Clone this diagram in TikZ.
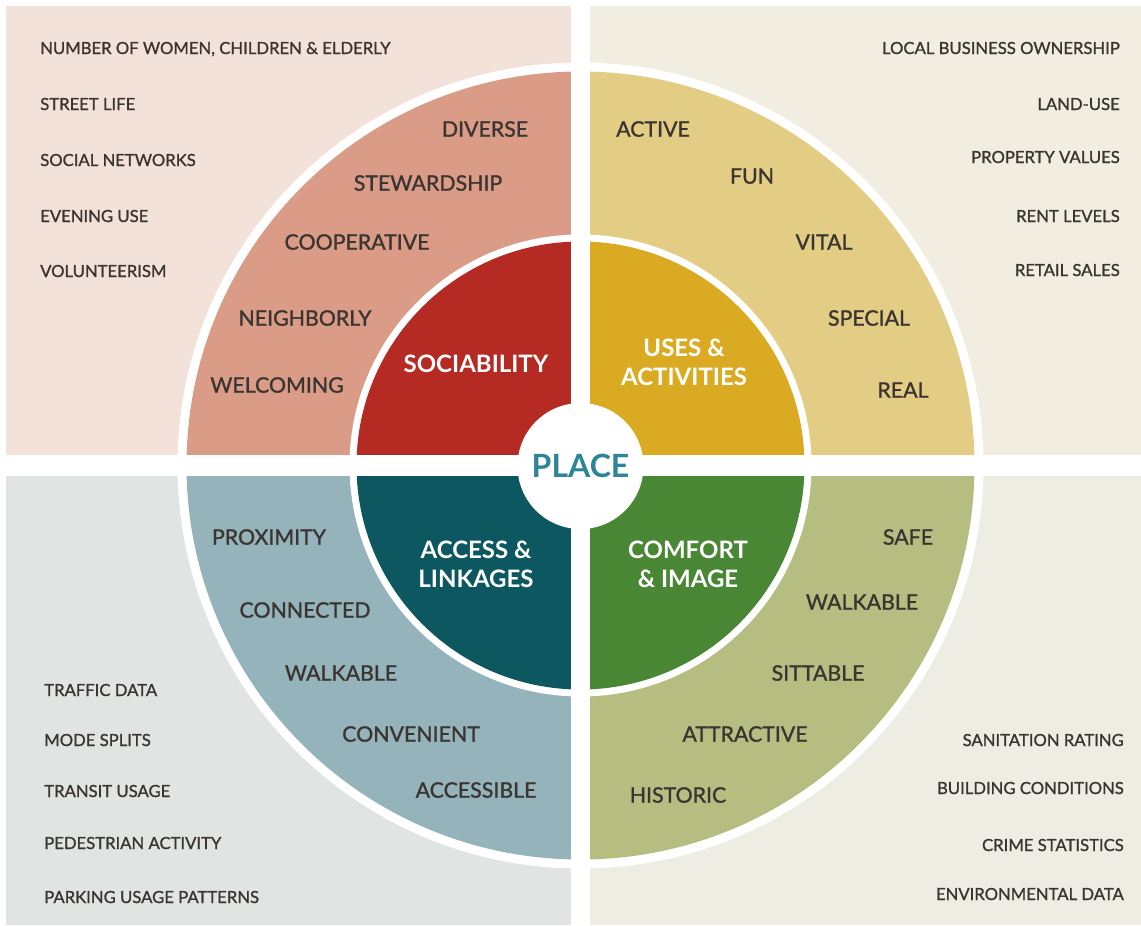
\documentclass[tikz,border=0pt]{standalone}
\usepackage{fontspec}
\setmainfont{Lato}
\newfontfamily\labelfont{Lato}[FakeBold=1.2]
\definecolor{inkdark}{HTML}{3B3532}
\definecolor{placeteal}{HTML}{2F8597}
\definecolor{bgSoc}{HTML}{F3E2DA}
\definecolor{bgUse}{HTML}{F1EDE0}
\definecolor{bgAcc}{HTML}{E0E5E4}
\definecolor{bgCom}{HTML}{EDEDE3}
\definecolor{ringSoc}{HTML}{DA9C86}
\definecolor{ringUse}{HTML}{E3CD85}
\definecolor{ringAcc}{HTML}{95B3BA}
\definecolor{ringCom}{HTML}{B6BD80}
\definecolor{coreSoc}{HTML}{B52A22}
\definecolor{coreUse}{HTML}{D9AA22}
\definecolor{coreAcc}{HTML}{0D5860}
\definecolor{coreCom}{HTML}{4A8734}
\begin{document}
\begin{tikzpicture}[x=0.75pt,y=-0.75pt,
metric/.style = {font=\labelfont\fontsize{12.5}{15}\selectfont, text=inkdark, inner sep=0pt, text height=9pt, text depth=0pt},
quality/.style = {font=\labelfont\fontsize{16}{19}\selectfont, text=inkdark, inner sep=0pt, text height=11.5pt, text depth=0pt},
attribute/.style = {font=\fontsize{18}{21.75}\selectfont\bfseries, text=white, align=center, inner sep=0pt},
placehub/.style = {circle, fill=white, minimum size=94.5pt, inner sep=0pt, text=placeteal, font=\fontsize{24}{28}\selectfont\bfseries},
]
\useasboundingbox (0,0) rectangle (1141,925);
\fill[white] (0,0) rectangle (1141,925);

% quadrants: background, outer ring, core
\foreach \xa/\ya/\xb/\yb/\bg/\ring/\core in {
  6/6/581/466/bgSoc/ringSoc/coreSoc,
  581/6/1141/466/bgUse/ringUse/coreUse,
  6/466/581/925/bgAcc/ringAcc/coreAcc,
  581/466/1141/925/bgCom/ringCom/coreCom}{
  \begin{scope}
    \clip (\xa,\ya) rectangle (\xb,\yb);
    \fill[\bg] (\xa,\ya) rectangle (\xb,\yb);
    \fill[white] (580.5,465.5) circle[radius=403];
    \fill[\ring] (580.5,465.5) circle[radius=394];
    \fill[white] (580.5,465.5) circle[radius=231];
    \fill[\core] (580.5,465.5) circle[radius=224];
  \end{scope}
}

% white cross
\fill[white] (571,0) rectangle (590,925);
\fill[white] (0,455) rectangle (1141,476);

\node[placehub] (place) at (580.5,466) {PLACE};

% key attributes
\node[attribute] (soc) at (476,364) {SOCIABILITY};
\node[attribute] (use) at (684,362) {USES \&\\ACTIVITIES};
\node[attribute] (acc) at (476,564) {ACCESS \&\\LINKAGES};
\node[attribute] (com) at (688,564) {COMFORT\\\& IMAGE};

% intangibles
\node[quality] (diverse) at (485,129) {DIVERSE};
\node[quality] (steward) at (428,183) {STEWARDSHIP};
\node[quality] (coop) at (357,242) {COOPERATIVE};
\node[quality] (neighbor) at (305,318) {NEIGHBORLY};
\node[quality] (welcome) at (277,385) {WELCOMING};

\node[quality] (active) at (653,129) {ACTIVE};
\node[quality] (fun) at (752,176) {FUN};
\node[quality] (vital) at (824,242) {VITAL};
\node[quality] (special) at (869,318) {SPECIAL};
\node[quality] (real) at (903,390) {REAL};

\node[quality] (proximity) at (269,537) {PROXIMITY};
\node[quality] (connected) at (305,610) {CONNECTED};
\node[quality] (walkacc) at (341,673) {WALKABLE};
\node[quality] (convenient) at (411,734) {CONVENIENT};
\node[quality] (accessible) at (476,790) {ACCESSIBLE};

\node[quality] (safe) at (908,537) {SAFE};
\node[quality] (walkcom) at (862,602) {WALKABLE};
\node[quality] (sittable) at (818,673) {SITTABLE};
\node[quality] (attractive) at (745,734) {ATTRACTIVE};
\node[quality] (historic) at (678,795) {HISTORIC};

% measurements
\node[metric, anchor=west] (women) at (40,48) {NUMBER OF WOMEN, CHILDREN \& ELDERLY};
\node[metric, anchor=west] (street) at (40,104) {STREET LIFE};
\node[metric, anchor=west] (networks) at (40,160) {SOCIAL NETWORKS};
\node[metric, anchor=west] (evening) at (40,216) {EVENING USE};
\node[metric, anchor=west] (volunteer) at (40,271) {VOLUNTEERISM};

\node[metric, anchor=east] (business) at (1120,48) {LOCAL BUSINESS OWNERSHIP};
\node[metric, anchor=east] (landuse) at (1120,104) {LAND-USE};
\node[metric, anchor=east] (property) at (1120,157) {PROPERTY VALUES};
\node[metric, anchor=east] (rent) at (1120,216) {RENT LEVELS};
\node[metric, anchor=east] (retail) at (1120,270) {RETAIL SALES};

\node[metric, anchor=west] (traffic) at (44,690) {TRAFFIC DATA};
\node[metric, anchor=west] (mode) at (44,740) {MODE SPLITS};
\node[metric, anchor=west] (transit) at (44,791) {TRANSIT USAGE};
\node[metric, anchor=west] (pedestrian) at (44,843) {PEDESTRIAN ACTIVITY};
\node[metric, anchor=west] (parking) at (44,897) {PARKING USAGE PATTERNS};

\node[metric, anchor=east] (sanitation) at (1124,740) {SANITATION RATING};
\node[metric, anchor=east] (building) at (1124,788) {BUILDING CONDITIONS};
\node[metric, anchor=east] (crime) at (1124,845) {CRIME STATISTICS};
\node[metric, anchor=east] (environment) at (1124,894) {ENVIRONMENTAL DATA};
\end{tikzpicture}
\end{document}
